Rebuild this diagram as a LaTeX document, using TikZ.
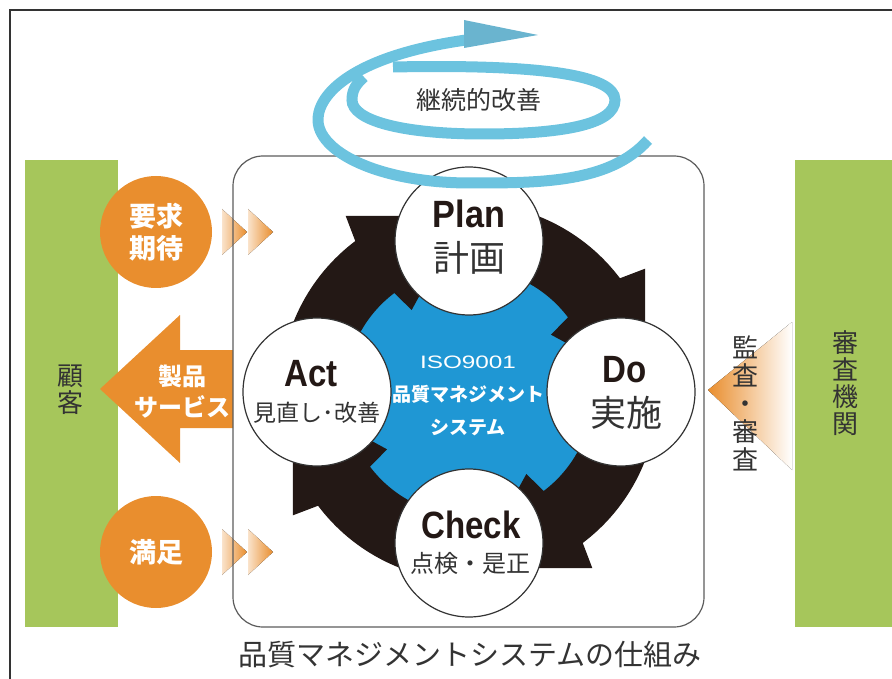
\documentclass[tikz,border=0pt]{standalone}
\usepackage{fontspec}
\usepackage{graphicx}
\usetikzlibrary{positioning}
\newfontfamily\jp{Noto Sans CJK JP}
\newfontfamily\lat{Liberation Sans}
\definecolor{ringblack}{HTML}{231815}
\definecolor{isoblue}{HTML}{1F97D4}
\definecolor{swirlblue}{HTML}{6CC3DF}
\definecolor{headblue}{HTML}{6AB4CF}
\definecolor{qmsorange}{HTML}{E98E2E}
\definecolor{qmsgreen}{HTML}{A6C65B}
\definecolor{inkgray}{HTML}{333333}
\tikzset{
phasecircle/.style={
    circle,
    draw=inkgray,
    line width=1.2pt,
    fill=white,
    minimum size=148pt,
    inner sep=0pt
},
badge/.style={
    circle,
    fill=qmsorange,
    minimum size=112pt,
    inner sep=0pt,
    text=white,
    align=center,
    font=\jp\bfseries\fontsize{27}{32}\selectfont
},
band/.style={
    fill=qmsgreen
},
vlabel/.style={
    text=inkgray,
    align=center,
    inner sep=0pt,
    font=\jp\fontsize{26}{27}\selectfont
},
chevron/.style={
    left color=qmsorange!25,
    middle color=qmsorange!80,
    right color=qmsorange
},
entitle/.style={
    text=ringblack,
    inner sep=0pt,
    font=\lat\bfseries\fontsize{38}{38}\selectfont
},
jatitle/.style={
    text=inkgray,
    inner sep=0pt,
    font=\jp\fontsize{#1}{#1}\selectfont
},
swirl/.style={
    draw=swirlblue,
    line width=11pt
}
}

\begin{document}
\begin{tikzpicture}[x=1pt,y=-1pt]
\useasboundingbox (0,0) rectangle (892,679);

% frame
\draw[inkgray, line width=1.5pt] (10,679) -- (10,10) -- (892,10);

% customer / registrar
\fill[band] (25,160) rectangle (118,627);
\fill[band] (795,160) rectangle (892,627);
\node[vlabel] (customer) at (70,390) {顧\\客};
\node[vlabel] (registrar) at (845,383) {審\\査\\機\\関};

% requirements, satisfaction
\node[badge] (demand) at (156,232) {要求\\期待};
\node[badge] (satisfied) at (156,552) {満足};
\foreach \y in {232,552} {
  \fill[chevron] (222,\y-23) -- (247,\y) -- (222,\y+23) -- cycle;
  \fill[chevron] (248,\y-23) -- (273,\y) -- (248,\y+23) -- cycle;
}

% product arrow
\fill[qmsorange] (233,350) -- (180,350) -- (180,315) -- (100,389)
  -- (180,463) -- (180,428) -- (233,428) -- cycle;
\node[text=white, align=center, inner sep=0pt,
  font=\jp\bfseries\fontsize{24}{31}\selectfont] (product) at (182,392) {製品\\サービス};

% audit arrow
\fill[left color=qmsorange, right color=white] (708,390) -- (792,322) -- (792,470) -- cycle;
\node[vlabel, font=\jp\fontsize{26}{28}\selectfont] (audit) at (745,403) {監\\査\\・\\審\\査};

% system box
\draw[draw=inkgray!80, line width=1.2pt, rounded corners=30pt] (233,156) rectangle (704,627);

% PDCA ring
\fill[isoblue] (469,392) circle[radius=128];
\foreach \t in {270,360,450,540} {
  \fill[ringblack, shift={(469,392)}] (\t-90:189)
    arc[start angle=\t-90, end angle=\t-37, radius=189]
    -- (\t-35:215) -- (\t-2:176) -- (\t-35:100) -- (\t-37:124)
    arc[start angle=\t-37, end angle=\t-90, radius=124] -- cycle;
}
\node[phasecircle] (plan) at (469,241) {};
\node[phasecircle] (do) at (621,392) {};
\node[phasecircle] (check) at (469,543) {};
\node[phasecircle] (act) at (317,392) {};

\node[entitle] (planEn) at (469,214) {\scalebox{0.9}[1]{Plan}};
\node[jatitle=36] (planJa) at (469,258) {計画};
\node[entitle] (doEn) at (625,370) {\scalebox{0.87}[1]{Do}};
\node[jatitle=36] (doJa) at (626,413) {実施};
\node[entitle] (actEn) at (311,374) {\scalebox{0.87}[1]{Act}};
\node[jatitle=23] (actJa) at (317,413) {見直し･改善};
\node[entitle] (checkEn) at (471,525) {\scalebox{0.87}[1]{Check}};
\node[jatitle=24] (checkJa) at (470,563) {点検・是正};

\node[text=white, inner sep=0pt, font=\lat\fontsize{18}{18}\selectfont] (iso) at (468,362) {\scalebox{1.35}[1]{ISO9001}};
\node[text=white, align=center, inner sep=0pt, font=\jp\bfseries\fontsize{19}{33}\selectfont] (qms) at (468,411) {品質マネジメント\\システム};

% continual improvement
\draw[swirl] (648,140) .. controls (610,183) and (540,183) .. (470,183)
  .. controls (380,183) and (316,152) .. (318,118)
  .. controls (320,90) and (360,55) .. (466,40);
\fill[headblue] (464,20) -- (538,35) -- (464,48) -- cycle;
\draw[swirl] (393,67) .. controls (540,64) and (615,75) .. (615,100)
  .. controls (615,125) and (560,134) .. (483,134)
  .. controls (400,134) and (352,120) .. (352,100)
  .. controls (352,90) and (356,84) .. (364,77);
\node[jatitle=25] (kaizen) at (479,100) {継続的改善};

% caption
\node[jatitle=29] (caption) at (470,655) {品質マネジメントシステムの仕組み};
\end{tikzpicture}
\end{document}
